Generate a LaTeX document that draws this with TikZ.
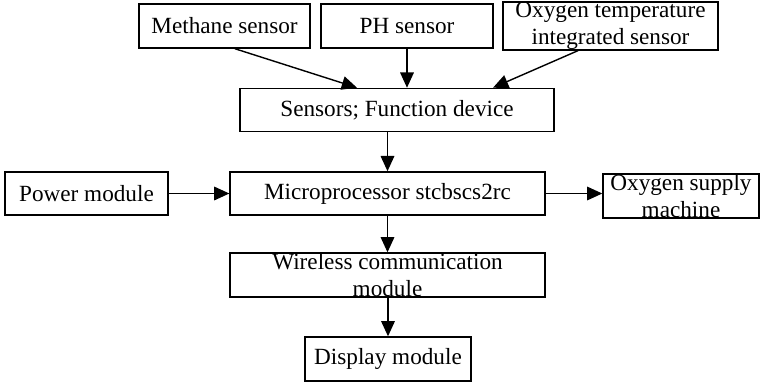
\documentclass[tikz,border=0pt]{standalone}
\usepackage{fontspec}
\setmainfont{Liberation Serif}
\usetikzlibrary{arrows.meta}

\begin{document}
\begin{tikzpicture}[x = 0.025cm, y = -0.025cm,
		caixa/.style = {draw, line width = 1pt, inner sep = 0pt, align = center,
			font = \fontsize{16.5}{19.5}\selectfont},
		fletxa/.style = {line width = 1pt, -{Triangle[length = 0.38cm, width = 0.34cm]}}]
			\useasboundingbox (0,0) rectangle (760,383);
			% sensors de dalt
			\node[caixa, minimum width = 4.27cm, minimum height = 1.1cm] (metha) at (224.5, 26) {Methane sensor};
			\node[caixa, minimum width = 4.3cm, minimum height = 1.1cm] (ph) at (407, 26) {PH sensor};
			\node[caixa, minimum width = 5.37cm, minimum height = 1.1cm] (oxtemp) at (610.5, 26) {Oxygen temperature\\integrated sensor};
			% dispositiu
			\node[caixa, minimum width = 7.85cm, minimum height = 1.08cm] (sensors) at (397, 110) {Sensors; Function device};
			% fila del mig
			\node[caixa, minimum width = 4.07cm, minimum height = 1.08cm] (power) at (86.5, 193.5) {Power module};
			\node[caixa, minimum width = 7.87cm, minimum height = 1.08cm] (micro) at (387.5, 193.5) {Microprocessor stcbscs2rc};
			\node[caixa, minimum width = 3.9cm, minimum height = 1.1cm] (oxsup) at (681, 196) {Oxygen supply\\machine};
			% fila de baix
			\node[caixa, minimum width = 7.87cm, minimum height = 1.1cm] (wireless) at (387.5, 275) {Wireless communication\\module};
			\node[caixa, minimum width = 4.15cm, minimum height = 1.1cm] (display) at (388, 359) {Display module};
			% fletxes
			\draw[fletxa] ([xshift = 0.26cm]metha.south) -- ([xshift = -1cm]sensors.north);
			\draw[fletxa] (ph.south) -- (ph.south |- sensors.north);
			\draw[fletxa] ([xshift = -0.81cm]oxtemp.south) -- ([xshift = 2.4cm]sensors.north);
			\draw[fletxa] (sensors.south -| micro.north) -- (micro.north);
			\draw[fletxa] (power.east) -- (power.east -| micro.west);
			\draw[fletxa] (micro.east) -- (micro.east -| oxsup.west);
			\draw[fletxa] (micro.south) -- (wireless.north);
			\draw[fletxa] (display.north |- wireless.south) -- (display.north);
		\end{tikzpicture}
\end{document}
